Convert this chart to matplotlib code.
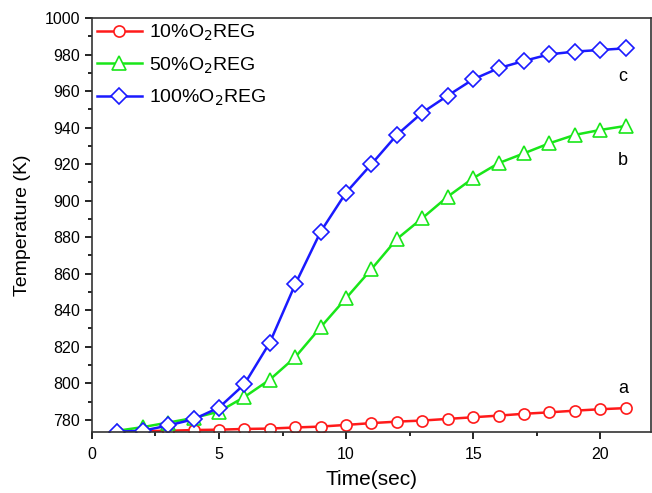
import numpy as np
import matplotlib
matplotlib.use('Agg')
import matplotlib.pyplot as plt
from matplotlib.ticker import MultipleLocator

plt.rcParams['font.family'] = ['Liberation Sans', 'DejaVu Sans']

# data
time = np.arange(1, 22)
T_10 = [773.5, 773.8, 774.0, 774.4, 774.6, 775.0, 775.2, 775.8, 776.3, 777.2, 778.2,
        779.0, 779.6, 780.5, 781.4, 782.3, 783.3, 784.1, 785.0, 785.8, 786.4]
T_50 = [774.0, 776.0, 778.5, 781.0, 784.5, 792.5, 802.0, 814.3, 830.7, 846.6, 862.5,
        879.0, 890.4, 902.2, 912.3, 920.5, 925.9, 931.4, 936.0, 938.7, 940.9]
T_100 = [773.5, 774.0, 776.9, 780.3, 786.7, 799.5, 822.3, 854.2, 883.0, 904.4, 920.0,
         936.0, 948.2, 957.5, 966.4, 972.5, 976.5, 980.1, 981.6, 982.5, 983.4]
series_labels = ['10%O$_2$REG', '50%O$_2$REG', '100%O$_2$REG']
curve_tags = ['a', 'b', 'c']
tag_pos = [(20.9, 797), (20.9, 922), (20.9, 968)]

fig = plt.figure(figsize=(6.52, 4.93), dpi=100)
ax = fig.add_axes([0.141, 0.124, 0.8575, 0.8395])

styles = [dict(color='#ff1a1a', marker='o', ms=8),
          dict(color='#19e619', marker='^', ms=9.5),
          dict(color='#1a1aff', marker='D', ms=8)]
for y, lab, st in zip([T_10, T_50, T_100], series_labels, styles):
  ax.plot(time, y, color=st['color'], lw=1.8, marker=st['marker'], ms=st['ms'],
          mfc='white', mec=st['color'], mew=1.2, label=lab)

for tag, (tx, ty) in zip(curve_tags, tag_pos):
  ax.text(tx, ty, tag, fontsize=13, ha='center', va='center')

ax.set_xlim(0, 22)
ax.set_ylim(773.4, 1000)
ax.xaxis.set_major_locator(MultipleLocator(5))
ax.xaxis.set_minor_locator(MultipleLocator(2.5))
ax.yaxis.set_major_locator(MultipleLocator(20))
ax.yaxis.set_minor_locator(MultipleLocator(10))
ax.tick_params(which='both', direction='out', top=False, right=False, labelsize=11.5)
ax.tick_params(which='major', length=5, width=1.2)
ax.tick_params(axis='x', pad=6)
ax.tick_params(which='minor', length=3, width=1.2)
for s in ax.spines.values():
  s.set_color('#333333')
  s.set_linewidth(1.2)

ax.set_xlabel('Time(sec)', fontsize=15, labelpad=6)
ax.set_ylabel('Temperature (K)', fontsize=14, labelpad=10)

ax.legend(loc='upper left', frameon=False, fontsize=14, handlelength=2.3,
          borderaxespad=0.2, borderpad=0.05, labelspacing=0.62, handletextpad=0.4)

fig.savefig('out.png', dpi=100)
